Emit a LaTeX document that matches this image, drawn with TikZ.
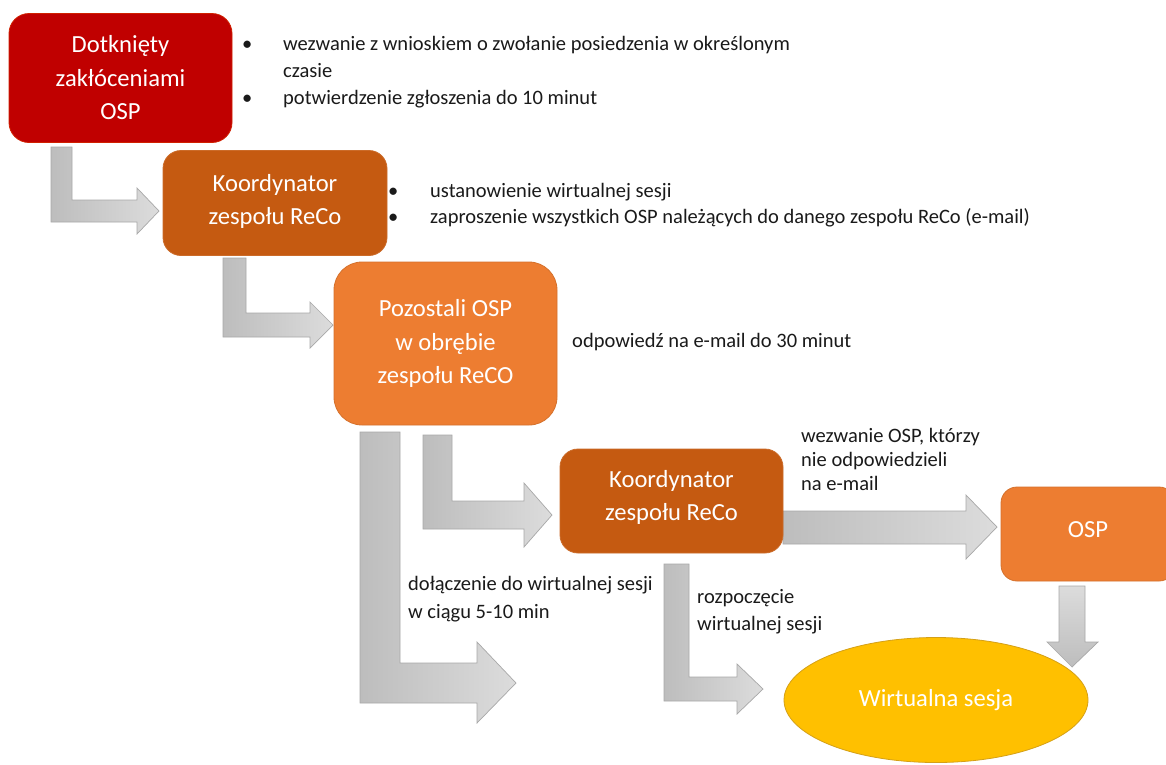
\documentclass[tikz,border=0pt]{standalone}
\usepackage{fontspec}
\setmainfont{Carlito}
\usetikzlibrary{shapes.geometric}
\definecolor{cRed}{HTML}{C00000}
\definecolor{cBrown}{HTML}{C55A11}
\definecolor{cOrange}{HTML}{ED7D31}
\definecolor{cGold}{HTML}{FFC000}
\definecolor{cGoldLine}{HTML}{D4A017}
\definecolor{gDark}{HTML}{BDBDBD}
\definecolor{gLight}{HTML}{DCDCDC}
\definecolor{gLine}{HTML}{A8A8A8}
\definecolor{txt}{HTML}{1A1A1A}
\tikzset{
  box/.style={rectangle, rounded corners=20pt, text=white, align=center,
    font=\fontsize{24.6}{33.5}\selectfont, inner sep=0pt, line width=0.8pt},
  blockarrow/.style={left color=gDark, right color=gLight, draw=gLine, line width=0.7pt},
  vblockarrow/.style={top color=gLight, bottom color=gDark, draw=gLine, line width=0.7pt},
  lbl/.style={anchor=west, inner sep=0pt, align=left, text=txt},
  lblfont/.style={font=\fontsize{20.5}{#1}\selectfont}
}
\newcommand{\bul}{\makebox[10pt][c]{•}}
\begin{document}
\begin{tikzpicture}[x=1pt,y=-1pt]
\useasboundingbox (0,0) rectangle (1166,764);
\clip (0,0) rectangle (1166,764);
\fill[white] (0,0) rectangle (1166,764);

% block arrows
\path[blockarrow] (51,147) -- (72,147) -- (72,200) -- (137,200) -- (137,188) -- (159,211) -- (137,234) -- (137,222) -- (51,222) -- cycle;
\path[blockarrow] (223,258) -- (246,258) -- (246,313) -- (310,313) -- (310,302) -- (333,325) -- (310,348) -- (310,337) -- (223,337) -- cycle;
\path[blockarrow] (360,432) -- (400,432) -- (400,663) -- (477,663) -- (477,642) -- (516,683) -- (477,723) -- (477,703) -- (360,703) -- cycle;
\path[blockarrow] (423,435) -- (452,435) -- (452,501) -- (524,501) -- (524,483) -- (552,515) -- (524,547) -- (524,529) -- (423,529) -- cycle;
\path[blockarrow] (664,564) -- (689,564) -- (689,677) -- (737,677) -- (737,664) -- (763,689) -- (737,714) -- (737,701) -- (664,701) -- cycle;
\path[blockarrow] (783,511) -- (966,511) -- (966,495) -- (997,527) -- (966,559) -- (966,544) -- (783,544) -- cycle;
\path[vblockarrow] (1059,586) -- (1085,586) -- (1085,642) -- (1098,642) -- (1072,667) -- (1047,642) -- (1059,642) -- cycle;

% boxes
\node[box, fill=cRed, draw=cRed!75!orange, minimum width=223pt, minimum height=129pt] (dotk) at (120.5,78) {Dotknięty\\zakłóceniami\\OSP};
\node[box, fill=cBrown, draw=cBrown!90!white, rounded corners=18pt, minimum width=224pt, minimum height=105pt] (koord1) at (275,203) {Koordynator\\zespołu ReCo\\[-26pt]\mbox{}};
\node[box, fill=cOrange, draw=cOrange!90!black, rounded corners=28pt, minimum width=223pt, minimum height=163pt] (pozost) at (445.5,343.5) {Pozostali OSP\\w obrębie\\zespołu ReCO};
\node[box, fill=cBrown, draw=cBrown!90!white, rounded corners=18pt, minimum width=223pt, minimum height=104pt] (koord2) at (671.5,501) {Koordynator\\zespołu ReCo\\[-22pt]\mbox{}};
\node[box, fill=cOrange, draw=cOrange!90!black, rounded corners=16pt, minimum width=174pt, minimum height=94pt] (osp) at (1088,534) {\raisebox{8pt}{OSP}};
\node[ellipse, fill=cGold, draw=cGoldLine, line width=0.8pt, minimum width=304pt, minimum height=125pt, inner sep=0pt, text=white, font=\fontsize{24.6}{30}\selectfont] (sesja) at (936,700) {\raisebox{2pt}{Wirtualna sesja}};

% labels
\node[lbl, lblfont=27] (l1) at (242,72) {\begin{tabular}{@{}l@{\hspace{31pt}}l@{}}
\bul & wezwanie z wnioskiem o zwołanie posiedzenia w określonym\\
 & czasie\\
\bul & potwierdzenie zgłoszenia do 10 minut
\end{tabular}};
\node[lbl, lblfont=26] (l2) at (388,205) {\begin{tabular}{@{}l@{\hspace{32pt}}l@{}}
\bul & ustanowienie wirtualnej sesji\\
\bul & zaproszenie wszystkich OSP należących do danego zespołu ReCo (e-mail)
\end{tabular}};
\node[lbl, lblfont=27] (l3) at (572,342) {odpowiedź na e-mail do 30 minut};
\node[lbl, lblfont=24] (l4) at (801,459) {wezwanie OSP, którzy\\nie odpowiedzieli\\na e-mail};
\node[lbl, lblfont=28] (l5) at (408,599) {dołączenie do wirtualnej sesji\\w ciągu 5-10 min};
\node[lbl, lblfont=27] (l6) at (697,611.5) {rozpoczęcie\\wirtualnej sesji};
\end{tikzpicture}
\end{document}
